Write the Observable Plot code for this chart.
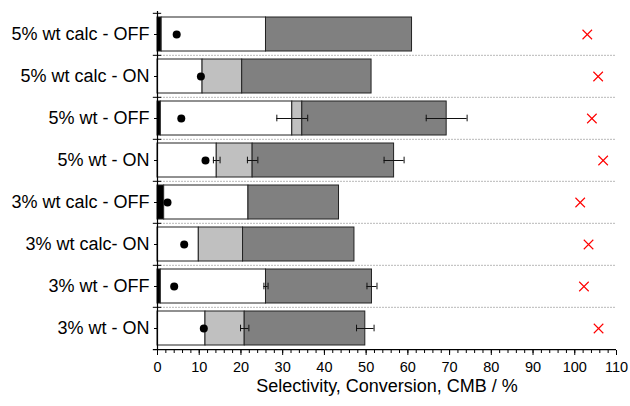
<!DOCTYPE html>
<html>
<head>
<meta charset="utf-8">
<script src="https://cdn.jsdelivr.net/npm/d3@7"></script>
<script src="https://cdn.jsdelivr.net/npm/@observablehq/plot@0.6"></script>
<style>
  html, body { margin: 0; padding: 0; background: #fff; }
  svg { font-family: "Liberation Sans", Arial, sans-serif; }
</style>
</head>
<body>
<div id="chart"></div>
<script>
const categories = ["5% wt calc - OFF", "5% wt calc - ON", "5% wt - OFF", "5% wt - ON",
                    "3% wt calc - OFF", "3% wt calc- ON", "3% wt - OFF", "3% wt - ON"];
// cumulative segment ends (%)
const blackEnd = [1.0, 0, 0.8, 0, 1.6, 0, 0.8, 0];
const whiteEnd = [26.0, 10.8, 32.3, 14.2, 21.8, 9.9, 26.0, 11.5];
const lightEnd = [26.0, 20.3, 34.7, 22.8, 21.8, 20.5, 26.0, 20.9];
const darkEnd  = [61.0, 51.3, 69.3, 56.7, 43.5, 47.2, 51.4, 49.8];
const conversion = [4.6, 10.4, 5.7, 11.5, 2.4, 6.4, 4.0, 11.1];
const cmb = [103.0, 105.6, 104.1, 106.8, 101.3, 103.3, 102.2, 105.7];
// error half-widths at segment ends
const errWhite = [0, 0, 3.7, 0.8, 0, 0, 0.5, 0];
const errLight = [0, 0, 0, 1.25, 0, 0, 0, 1.0];
const errDark  = [0, 0, 4.9, 2.4, 0, 0, 1.2, 2.1];
const xTicks = d3.range(0, 111, 10);
const xMinorTicks = d3.range(0, 111, 2);
const xLabel = "Selectivity, Conversion, CMB / %";

const W = 630, H = 406, mT = 11, mB = 56, mL = 157, mR = 14;
const band = (H - mT - mB) / categories.length;

const colors = {black: "#000000", white: "#ffffff", light: "#c0c0c0", dark: "#808080"};
const segs = [];
categories.forEach((c, i) => {
  const parts = [
    ["black", 0, blackEnd[i]],
    ["white", blackEnd[i], whiteEnd[i]],
    ["light", whiteEnd[i], lightEnd[i]],
    ["dark", lightEnd[i], darkEnd[i]]
  ];
  for (const [k, a, b] of parts) if (b - a > 0) segs.push({cat: c, k, x1: a, x2: b});
});
const errs = [];
categories.forEach((c, i) => {
  for (const [v, e] of [[whiteEnd[i], errWhite[i]], [lightEnd[i], errLight[i]], [darkEnd[i], errDark[i]]]) {
    if (e > 0) errs.push({cat: c, lo: v - e, hi: v + e});
  }
});
const pts = categories.map((c, i) => ({cat: c, conv: conversion[i], cmb: cmb[i]}));
const capInset = (band - 7) / 2;

const plot = Plot.plot({
  width: W, height: H,
  marginTop: mT, marginBottom: mB, marginLeft: mL, marginRight: mR,
  style: {fontFamily: "'Liberation Sans', Arial, sans-serif", background: "#fff", color: "#000"},
  x: {domain: [0, 110], axis: null},
  y: {domain: categories, padding: 0, axis: null},
  marks: [
    // dashed separators between rows
    Plot.ruleY(categories.slice(1), {y: d => d, x1: 0, x2: 110, dy: -band / 2,
      stroke: "#b8b8b8", strokeWidth: 1, strokeDasharray: "2,1"}),
    // stacked bars
    Plot.barX(segs, {y: "cat", x1: "x1", x2: "x2", fill: d => colors[d.k],
      stroke: "#222", strokeWidth: 1, insetTop: 4, insetBottom: 4}),
    // error bars
    Plot.ruleY(errs, {y: "cat", x1: "lo", x2: "hi", stroke: "#111", strokeWidth: 1}),
    Plot.tickX(errs, {y: "cat", x: "lo", stroke: "#111", strokeWidth: 1, insetTop: capInset, insetBottom: capInset}),
    Plot.tickX(errs, {y: "cat", x: "hi", stroke: "#111", strokeWidth: 1, insetTop: capInset, insetBottom: capInset}),
    // conversion dots
    Plot.dot(pts, {y: "cat", x: "conv", r: 4, fill: "#000"}),
    // carbon mass balance
    Plot.dot(pts, {y: "cat", x: "cmb", r: 4.4, symbol: "times", stroke: "#ff0000", strokeWidth: 1.1}),
    // y axis line and boundary ticks
    Plot.ruleX([0], {stroke: "#000", strokeWidth: 1.2}),
    Plot.ruleY(categories, {y: d => d, x1: -1, x2: 1, dy: -band / 2, stroke: "#000", strokeWidth: 1}),
    Plot.ruleY([categories[categories.length - 1]], {y: d => d, x1: -1, x2: 110, dy: band / 2, stroke: "#000", strokeWidth: 1.2}),
    // axes
    Plot.axisY({tickSize: 3, tickPadding: 5, fontSize: 18, label: null, stroke: "#000"}),
    Plot.axisX({ticks: xMinorTicks, tickSize: 3, text: null, label: null, stroke: "#000"}),
    Plot.axisX({ticks: xTicks, tickSize: 5, tickPadding: 6, fontSize: 14.5, label: null, stroke: "#000"}),
    Plot.text([xLabel], {frameAnchor: "bottom", dy: 41, fontSize: 18, fill: "#000"})
  ]
});
document.getElementById("chart").appendChild(plot);
</script>
</body>
</html>
